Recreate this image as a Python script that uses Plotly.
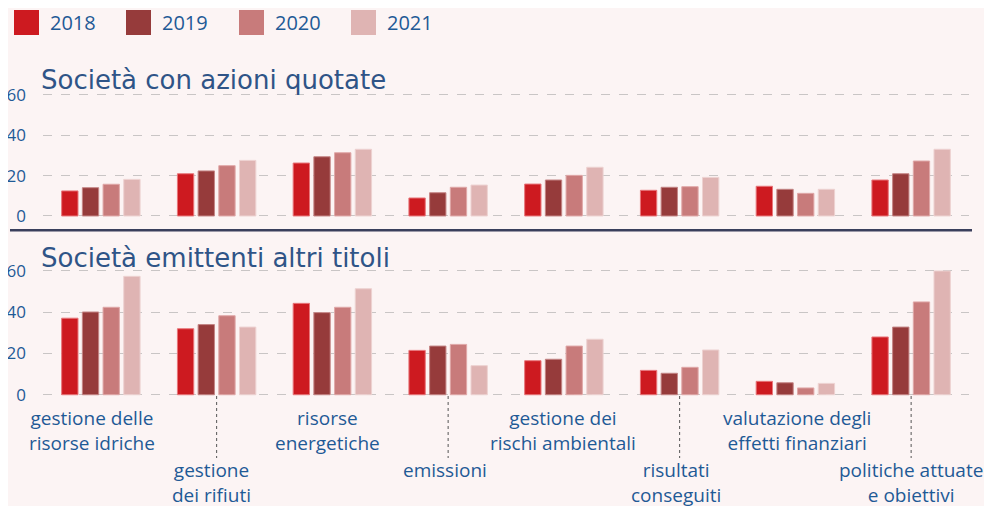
import plotly.graph_objects as go

categories = ["gestione delle<br>risorse idriche", "gestione<br>dei rifiuti", "risorse<br>energetiche",
              "emissioni", "gestione dei<br>rischi ambientali", "risultati<br>conseguiti",
              "valutazione degli<br>effetti finanziari", "politiche attuate<br>e obiettivi"]
years = ["2018", "2019", "2020", "2021"]

quotate_2018 = [12.4, 20.9, 26.2, 8.9, 15.8, 12.7, 14.7, 17.8]
quotate_2019 = [14.0, 22.3, 29.3, 11.5, 17.8, 14.2, 13.2, 20.9]
quotate_2020 = [15.7, 24.9, 31.3, 14.2, 20.1, 14.5, 11.2, 27.2]
quotate_2021 = [18.1, 27.5, 33.0, 15.3, 24.1, 19.1, 13.2, 33.0]

altri_2018 = [37.1, 32.0, 44.3, 21.5, 16.5, 11.8, 6.5, 28.0]
altri_2019 = [40.1, 34.0, 39.8, 23.6, 17.2, 10.4, 5.8, 32.8]
altri_2020 = [42.4, 38.3, 42.4, 24.4, 23.6, 13.3, 3.3, 45.0]
altri_2021 = [57.4, 32.8, 51.4, 14.1, 26.9, 21.7, 5.5, 60.0]

y_ticks = [0, 20, 40, 60]
panel_titles = ["Società con azioni quotate", "Società emittenti altri titoli"]

colors = ["#CD1A20", "#963B3B", "#C87B7B", "#DFB4B3"]
edges = ["#E8767A", "#C48585", "#E0A8A8", "#EDD2D1"]

quotate = [quotate_2018, quotate_2019, quotate_2020, quotate_2021]
altri = [altri_2018, altri_2019, altri_2020, altri_2021]

# small horizontal nudges of the category labels (pixels), as in the original layout
label_shift = [-9, -5, -5, -3, -1, -4, 2, 0]

W, H = 992, 506
OFF = 8  # page offset of the figure inside the browser window


def py(p):
    return 1 - (p - OFF) / H


def px(p):
    return (p - OFF) / W


fig = go.Figure()
for i, yr in enumerate(years):
    fig.add_trace(go.Bar(x=categories, y=quotate[i], name=yr, marker_color=colors[i],
                         marker_line=dict(color=edges[i], width=1), showlegend=False,
                         xaxis="x", yaxis="y"))
    fig.add_trace(go.Bar(x=categories, y=altri[i], name=yr, marker_color=colors[i],
                         marker_line=dict(color=edges[i], width=1), showlegend=False,
                         xaxis="x2", yaxis="y2"))

xdom = [px(43), px(969)]
ycommon = dict(range=[-1, 61], tickvals=y_ticks, showgrid=True, gridcolor="#C9C5C5",
               griddash="dash", gridwidth=1, zeroline=False, showline=False, automargin=False,
               tickfont=dict(family="Open Sans", size=17, color="#1F5A96"),
               ticklabelstandoff=16, fixedrange=True)
xcommon = dict(domain=xdom, range=[-0.5, len(categories) - 0.5], autorange=False,
               showticklabels=False, showgrid=False, zeroline=False,
               automargin=False, fixedrange=True)
fig.update_layout(
    width=W, height=H, margin=dict(l=0, r=0, t=0, b=0, autoexpand=False), autosize=False,
    paper_bgcolor="#FCF4F4", plot_bgcolor="rgba(0,0,0,0)",
    barmode="group", bargap=0.285, bargroupgap=0.21,
    xaxis=dict(anchor="y", **xcommon),
    xaxis2=dict(anchor="y2", **xcommon),
    yaxis=dict(domain=[py(218.0), py(92.7)], anchor="x", **ycommon),
    yaxis2=dict(domain=[py(396.8), py(268.9)], anchor="x2", **ycommon),
    showlegend=False,
)

shapes = []
annotations = []

# panel titles
for t, yc in zip(panel_titles, [80, 258]):
    annotations.append(dict(text=t, xref="paper", yref="paper", x=px(39), y=py(yc),
                            xanchor="left", yanchor="middle", showarrow=False,
                            font=dict(family="DejaVu Sans", size=26, color="#2F5487")))

# separator line
shapes.append(dict(type="line", xref="paper", yref="paper", x0=px(10), x1=px(972),
                   y0=py(230.3), y1=py(230.3), line=dict(color="#3A3F5C", width=2.5)))

# legend (manual, large swatches)
leg_x = [14, 126, 239, 351]
for i, yr in enumerate(years):
    x0 = leg_x[i]
    shapes.append(dict(type="rect", xref="paper", yref="paper", x0=px(x0), x1=px(x0 + 25),
                       y0=py(35), y1=py(10), fillcolor=colors[i], line=dict(width=0)))
    annotations.append(dict(text=yr, xref="paper", yref="paper", x=px(x0 + 34), y=py(22.5),
                            xanchor="left", yanchor="middle", showarrow=False,
                            font=dict(family="Open Sans", size=20, color="#1F5A96")))

# category labels, alternating levels
for i, c in enumerate(categories):
    if i % 2 == 0:
        ytop = 403
    else:
        ytop = 455
        shapes.append(dict(type="line", xref="x2", yref="paper", x0=c, x1=c,
                           y0=py(396), y1=py(458), line=dict(color="#555555", width=1, dash="dot")))
    annotations.append(dict(text=c, xref="x2", yref="paper", x=c, y=py(ytop),
                            xshift=label_shift[i],
                            xanchor="center", yanchor="top", showarrow=False, align="center",
                            font=dict(family="Open Sans", size=19, color="#1F5A96")))

fig.update_layout(shapes=shapes, annotations=annotations)
fig.write_html("out.html")
